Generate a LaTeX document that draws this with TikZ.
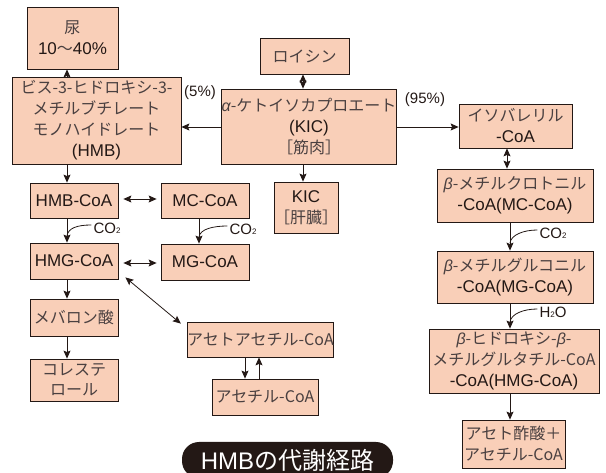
\documentclass[tikz,border=0pt]{standalone}
\usepackage{fontspec}
\setmainfont{Noto Sans CJK JP}
\newfontfamily\grk{Liberation Sans}
\newfontfamily\lt{Liberation Sans}
\usetikzlibrary{arrows.meta,calc}
\definecolor{boxfill}{HTML}{F9CFB8}
\definecolor{ink}{HTML}{231815}
\definecolor{txt}{HTML}{4A4040}
\tikzset{
 bx/.style={draw=ink, line width=0.8pt, fill=boxfill, inner sep=0pt, align=center, text=txt, font=\fontsize{16}{21}\selectfont},
 arr/.style={draw=ink, line width=0.8pt, -{Stealth[length=8pt,width=7pt,inset=1.5pt]}},
 darr/.style={draw=ink, line width=0.8pt, {Stealth[length=8pt,width=7pt,inset=1.5pt]}-{Stealth[length=8pt,width=7pt,inset=1.5pt]}},
 lbl/.style={text=ink, font=\lt\fontsize{15}{18}\selectfont, inner sep=0pt},
 crv/.style={draw=ink, line width=0.8pt},
}
\newcommand{\bt}{{\grk\itshape β}}
\newcommand{\al}{{\grk\itshape α}}
\newcommand{\two}{{\fontsize{8}{8}\selectfont 2}}
\newcommand{\La}[1]{{\lt\fontsize{17}{21}\selectfont\color{ink}#1}}
\begin{document}
\begin{tikzpicture}[x=1pt,y=-1pt]
\useasboundingbox (0,0) rectangle (606,473);
% boxes
\node[bx, minimum width=91pt, minimum height=62pt] (nyo) at (72.5,38) {尿\\\La{10}～\La{40\%}};
\node[bx, minimum width=169pt, minimum height=87pt] (hmb) at (96.5,120.5) {ビス-3-ヒドロキシ-3-\\メチルブチレート\\モノハイドレート\\\La{(HMB)}};
\node[bx, minimum width=89pt, minimum height=36pt] (leu) at (304.5,56) {ロイシン};
\node[bx, minimum width=174pt, minimum height=75pt] (kic) at (309,126.5) {\al-ケトイソカプロエート\\\La{(KIC)}\\［筋肉］};
\node[bx, minimum width=113pt, minimum height=44pt] (iso) at (515.5,126) {イソバレリル\\\La{-CoA}};
\node[bx, minimum width=156pt, minimum height=53pt] (mc) at (515,195.5) {\bt-メチルクロトニル\\\La{-CoA(MC-CoA)}};
\node[bx, minimum width=156pt, minimum height=52pt] (mg) at (515,277) {\bt-メチルグルコニル\\\La{-CoA(MG-CoA)}};
\node[bx, minimum width=170pt, minimum height=64pt] (hmgr) at (514,361) {\bt-ヒドロキシ-\bt-\\メチルグルタチル-CoA\\\La{-CoA(HMG-CoA)}};
\node[bx, minimum width=103pt, minimum height=48pt] (acetoac) at (513.5,444) {アセト酢酸＋\\アセチル-CoA};
\node[bx, minimum width=64pt, minimum height=51pt] (kicl) at (306,207.5) {\La{KIC}\\［肝臓］};
\node[bx, minimum width=88pt, minimum height=35pt] (hmbcoa) at (74,200.5) {\La{HMB-CoA}};
\node[bx, minimum width=88pt, minimum height=35pt] (mccoa) at (205,200.5) {\La{MC-CoA}};
\node[bx, minimum width=88pt, minimum height=36pt] (hmgcoa) at (74,261) {\La{HMG-CoA}};
\node[bx, minimum width=88pt, minimum height=36pt] (mgcoa) at (205,262) {\La{MG-CoA}};
\node[bx, minimum width=88pt, minimum height=37pt] (meva) at (74,317.5) {メバロン酸};
\node[bx, minimum width=88pt, minimum height=42pt, font=\fontsize{16}{20}\selectfont] (chol) at (74,380) {コレステ\\ロール};
\node[bx, minimum width=145pt, minimum height=35pt] (acac) at (260.5,339.5) {アセトアセチル-CoA};
\node[bx, minimum width=106pt, minimum height=36pt] (acet) at (265,397) {アセチル-CoA};
% labels
\node[lbl] (p5) at (200,93) {(5\%)};
\node[lbl] (p95) at (425,100) {(95\%)};
\node[lbl] (co2a) at (107,228) {CO\two};
\node[lbl] (co2b) at (243,229) {CO\two};
\node[lbl] (co2c) at (553,233) {CO\two};
\node[lbl] (h2o) at (553,312) {H\two O};
% column coordinates
\coordinate (cL) at (67,0);
\coordinate (cM) at (303,0);
\coordinate (cR) at (510,0);
\coordinate (cR2) at (507,0);
\coordinate (cMC) at (199,0);
\coordinate (cA1) at (245,0);
\coordinate (cA2) at (259,0);
% arrows
\draw[arr] (cL |- hmb.north) -- (cL |- nyo.south);
\draw[darr] (cM |- leu.south) -- (cM |- kic.north);
\draw[arr] (kic.west |- 0,127) -- (hmb.east |- 0,127);
\draw[arr] (kic.east |- 0,127) -- (iso.west |- 0,127);
\draw[arr] (cM |- kic.south) -- (cM |- kicl.north);
\draw[darr] (cR2 |- iso.south) -- (cR2 |- mc.north);
\draw[arr] (cR |- mc.south) -- (cR |- mg.north);
\draw[arr] (cR |- mg.south) -- (cR |- hmgr.north);
\draw[arr] (cR |- hmgr.south) -- (cR |- acetoac.north);
\draw[arr] (cL |- hmb.south) -- (cL |- hmbcoa.north);
\draw[darr, shorten <=5pt, shorten >=4pt] (hmbcoa.east |- 0,199) -- (mccoa.west |- 0,199);
\draw[arr] (cL |- hmbcoa.south) -- (cL |- hmgcoa.north);
\draw[arr] (cMC |- mccoa.south) -- (cMC |- mgcoa.north);
\draw[darr, shorten <=5pt, shorten >=4pt] (hmgcoa.east |- 0,263) -- (mgcoa.west |- 0,263);
\draw[darr] ($(hmgcoa.south east)+(7,-2)$) -- ($(acac.north west)+(-6,2)$);
\draw[arr] (cL |- hmgcoa.south) -- (cL |- meva.north);
\draw[arr] (cL |- meva.south) -- (cL |- chol.north);
\draw[arr] (cA1 |- acac.south) -- (cA1 |- acet.north);
\draw[arr] (cA2 |- acet.north) -- (cA2 |- acac.south);
% curved side arrows
\coordinate (j1) at (67,236);
\coordinate (j2) at (199,237);
\coordinate (j3) at (510,243);
\coordinate (j4) at (510,322);
\draw[crv] ($(co2a.west)+(-2,-3)$) .. controls +(-14,0) and +(1,-8) .. (j1);
\draw[crv] ($(co2b.west)+(-2,-3)$) .. controls +(-14,0) and +(1,-8) .. (j2);
\draw[crv] ($(co2c.west)+(-2,-3)$) .. controls +(-14,0) and +(1,-8) .. (j3);
\draw[crv] ($(h2o.west)+(-2,-3)$) .. controls +(-14,0) and +(1,-8) .. (j4);
% title
\node[fill=ink, text=white, rounded corners=17pt, minimum width=211pt, minimum height=36pt, inner sep=0pt, font=\fontsize{24}{24}\selectfont] (ttl) at (287.5,460) {{\lt HMB}の代謝経路};
\end{tikzpicture}
\end{document}
